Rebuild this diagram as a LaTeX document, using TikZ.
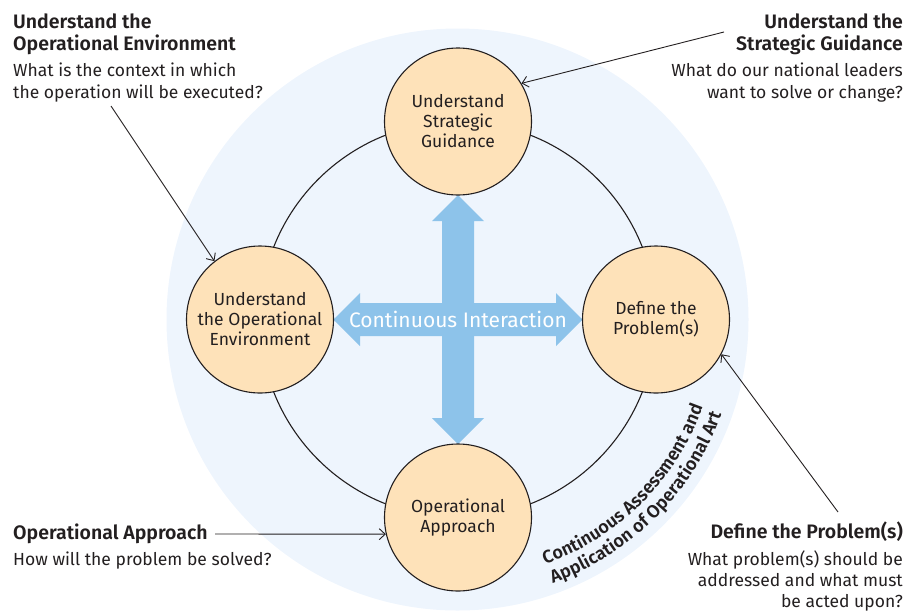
\documentclass[tikz,border=0pt]{standalone}
\usepackage{fontspec}
\setmainfont{Fira Sans}
\newfontfamily\medfont{Fira Sans SemiBold}
\usetikzlibrary{arrows.meta,decorations.text}
\definecolor{bgblue}{HTML}{EEF5FD}
\definecolor{peach}{HTML}{FEE2B9}
\definecolor{arrowblue}{HTML}{8DC3EA}
\definecolor{ink}{HTML}{231F20}
\begin{document}
\begin{tikzpicture}[x=1pt,y=1pt]
		\tikzstyle{every node}+=[inner sep=0pt, text=ink]
		\tikzstyle{stage}=[circle, draw=ink, line width=1.1pt, fill=peach, minimum size=147pt, align=center, font=\fontsize{17.5}{20}\selectfont]
		\tikzstyle{head}=[font=\medfont\fontsize{19.5}{22}\selectfont]
		\tikzstyle{ask}=[font=\fontsize{17.5}{22}\selectfont]
		\tikzstyle{pointer}=[draw=ink, line width=0.9pt, -{Straight Barb[length=6pt,width=11pt]}]
		\useasboundingbox (0,-614) rectangle (921,0);
		% background rings
		\fill [bgblue] (457.5,-319.5) circle (291);
		\draw [ink, line width=1.1pt] (458,-319.5) circle (198);
		% cross of arrows
		\fill [arrowblue] (442,-221) -- (432,-221) -- (458,-195) -- (484,-221) -- (474,-221) -- (474,-418) -- (484,-418) -- (458,-444) -- (432,-418) -- (442,-418) -- cycle;
		\fill [arrowblue] (360,-303) -- (360,-293) -- (333.5,-319.5) -- (360,-346) -- (360,-336) -- (556,-336) -- (556,-346) -- (582.5,-319.5) -- (556,-293) -- (556,-303) -- cycle;
		\node [text=white, font=\fontsize{21}{24}\selectfont] (ci) at (458,-319.5) {Continuous Interaction};
		% the four stages
		\node [stage] (sg) at (458,-121.5) {Understand\\Strategic\\Guidance};
		\node [stage] (env) at (260,-319.5) {Understand\\the Operational\\Environment};
		\node [stage] (prob) at (656,-319.5) {Define the\\Problem(s)};
		\node [stage] (appr) at (458,-517.5) {Operational\\Approach};
		% text on the ring
		\path [decorate, decoration={text along path, text align=center, text color=ink, text={|\medfont\fontsize{18}{20}\selectfont|Continuous Assessment and}}] (458,-319.5) ++(-80:260) arc (-80:-10:260);
		\path [decorate, decoration={text along path, text align=center, text color=ink, text={|\medfont\fontsize{18}{20}\selectfont|Application of Operational Art}}] (458,-319.5) ++(-80:280) arc (-80:-10:280);
		% outer labels (base is the last line)
		\node [head, anchor=base west, align=left] (oeHead) at (13,-50) {Understand the\\Operational Environment};
		\node [ask, anchor=base west, align=left] (oeAsk) at (13,-98) {What is the context in which\\the operation will be executed?};
		\node [head, anchor=base east, align=right] (sgHead) at (903,-50) {Understand the\\Strategic Guidance};
		\node [ask, anchor=base east, align=right] (sgAsk) at (903,-98) {What do our national leaders\\want to solve or change?};
		\node [head, anchor=base west] (oaHead) at (13,-539) {Operational Approach};
		\node [ask, anchor=base west] (oaAsk) at (13,-565) {How will the problem be solved?};
		\node [head, anchor=base east] (dpHead) at (903,-538) {Define the Problem(s)};
		\node [ask, anchor=base east, align=right, font=\fontsize{17.5}{21}\selectfont] (dpAsk) at (903,-607) {What problem(s) should be\\addressed and what must\\be acted upon?};
		% pointers
		\coordinate (oeFrom) at (111,-106);
		\draw [pointer] (oeFrom) -- (env.128);
		\coordinate (sgFrom) at (724,-32);
		\draw [pointer] (sgFrom) -- (sg.31);
		\coordinate (oaFrom) at (215,-534);
		\draw [pointer] (oaFrom) -- (appr.193);
		\coordinate (dpFrom) at (838,-512);
		\draw [pointer] (dpFrom) -- (prob.-28);
\end{tikzpicture}
\end{document}
